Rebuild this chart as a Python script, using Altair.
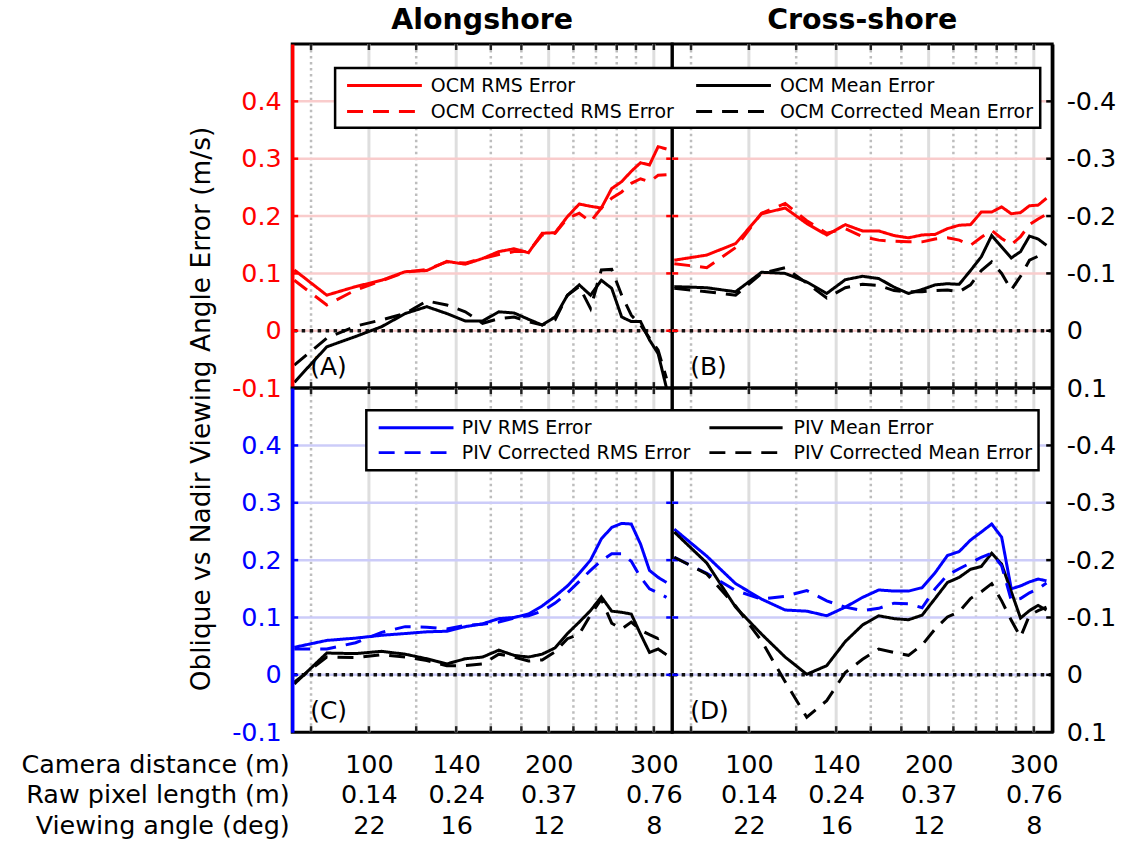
import altair as alt
import pandas as pd

# ---------------- data ----------------
distance = [75, 85, 95, 105, 115, 125, 135, 145, 155, 165, 175, 185, 195,
            205, 215, 225, 235, 245, 255, 265, 275, 285, 295, 305, 315]

# Alongshore, OCM (left axis)
ocm_along_rms = [0.106, 0.062, 0.077, 0.088, 0.103, 0.105, 0.121, 0.116, 0.126, 0.138, 0.143, 0.136, 0.170,
                 0.171, 0.199, 0.221, 0.217, 0.214, 0.248, 0.260, 0.278, 0.293, 0.289, 0.321, 0.317]
ocm_along_rms_corr = [0.088, 0.045, 0.071, 0.087, 0.102, 0.107, 0.120, 0.118, 0.126, 0.133, 0.138, 0.138, 0.167,
                      0.170, 0.196, 0.205, 0.190, 0.214, 0.231, 0.242, 0.257, 0.265, 0.260, 0.271, 0.272]
ocm_along_mean = [-0.090, -0.028, -0.010, 0.007, 0.030, 0.042, 0.030, 0.017, 0.017, 0.033, 0.031, 0.020, 0.010,
                  0.024, 0.062, 0.080, 0.062, 0.088, 0.074, 0.024, 0.016, 0.016, -0.016, -0.040, -0.100]
ocm_along_mean_corr = [-0.060, -0.013, 0.008, 0.019, 0.030, 0.052, 0.045, 0.033, 0.013, 0.021, 0.024, 0.016, 0.010,
                       0.019, 0.062, 0.077, 0.039, 0.106, 0.107, 0.062, 0.027, 0.010, -0.013, -0.034, -0.083]

# Cross-shore, OCM (right axis, reversed)
ocm_cross_rms = [-0.123, -0.132, -0.152, -0.204, -0.214, -0.187, -0.167, -0.185, -0.174, -0.174, -0.166, -0.162, -0.167,
                 -0.168, -0.178, -0.184, -0.185, -0.207, -0.207, -0.216, -0.204, -0.206, -0.218, -0.219, -0.231]
ocm_cross_rms_corr = [-0.117, -0.110, -0.145, -0.205, -0.222, -0.192, -0.170, -0.178, -0.164, -0.158, -0.156, -0.155, -0.155,
                      -0.160, -0.162, -0.158, -0.149, -0.163, -0.175, -0.161, -0.150, -0.164, -0.185, -0.195, -0.203]
ocm_cross_mean = [-0.077, -0.075, -0.068, -0.102, -0.100, -0.085, -0.065, -0.089, -0.095, -0.091, -0.076, -0.065, -0.072,
                  -0.080, -0.082, -0.081, -0.105, -0.129, -0.166, -0.146, -0.127, -0.138, -0.165, -0.160, -0.149]
ocm_cross_mean_corr = [-0.074, -0.068, -0.062, -0.100, -0.110, -0.083, -0.057, -0.075, -0.081, -0.079, -0.070, -0.068, -0.068,
                       -0.070, -0.071, -0.068, -0.080, -0.105, -0.120, -0.100, -0.071, -0.095, -0.123, -0.130, -0.129]

# Alongshore, PIV (left axis)
piv_along_rms = [0.048, 0.060, 0.064, 0.069, 0.072, 0.075, 0.076, 0.084, 0.089, 0.098, 0.100, 0.106, 0.120,
                 0.137, 0.155, 0.177, 0.200, 0.237, 0.257, 0.264, 0.263, 0.228, 0.182, 0.170, 0.161]
piv_along_rms_corr = [0.045, 0.045, 0.056, 0.074, 0.084, 0.083, 0.080, 0.086, 0.088, 0.092, 0.099, 0.103, 0.111,
                      0.125, 0.143, 0.163, 0.182, 0.199, 0.211, 0.211, 0.198, 0.170, 0.150, 0.143, 0.135]
piv_along_mean = [-0.016, 0.038, 0.037, 0.041, 0.036, 0.028, 0.019, 0.028, 0.031, 0.043, 0.034, 0.031, 0.036,
                  0.047, 0.072, 0.092, 0.112, 0.136, 0.111, 0.109, 0.106, 0.071, 0.039, 0.045, 0.035]
piv_along_mean_corr = [-0.013, 0.031, 0.030, 0.035, 0.031, 0.025, 0.016, 0.016, 0.019, 0.036, 0.031, 0.024, 0.026,
                       0.040, 0.063, 0.071, 0.104, 0.132, 0.090, 0.080, 0.092, 0.078, 0.070, 0.063, 0.070]

# Cross-shore, PIV (right axis, reversed)
piv_cross_rms = [-0.254, -0.207, -0.159, -0.132, -0.113, -0.111, -0.103, -0.118, -0.135, -0.148, -0.146, -0.146, -0.152,
                 -0.178, -0.208, -0.215, -0.235, -0.249, -0.263, -0.240, -0.150, -0.155, -0.162, -0.167, -0.164]
piv_cross_rms_corr = [-0.205, -0.177, -0.147, -0.132, -0.137, -0.147, -0.129, -0.118, -0.112, -0.116, -0.125, -0.124, -0.117,
                      -0.150, -0.174, -0.185, -0.195, -0.205, -0.212, -0.190, -0.130, -0.133, -0.143, -0.150, -0.160]
piv_cross_mean = [-0.249, -0.195, -0.118, -0.071, -0.031, -0.001, -0.016, -0.058, -0.087, -0.103, -0.098, -0.096, -0.104,
                  -0.133, -0.161, -0.170, -0.184, -0.189, -0.212, -0.193, -0.145, -0.099, -0.112, -0.121, -0.113]
piv_cross_mean_corr = [-0.205, -0.176, -0.120, -0.059, 0.012, 0.074, 0.045, -0.004, -0.027, -0.045, -0.039, -0.034, -0.052,
                       -0.080, -0.101, -0.110, -0.133, -0.145, -0.159, -0.129, -0.095, -0.066, -0.104, -0.112, -0.118]

ocm_names = ["OCM RMS Error", "OCM Mean Error", "OCM Corrected RMS Error", "OCM Corrected Mean Error"]
piv_names = ["PIV RMS Error", "PIV Mean Error", "PIV Corrected RMS Error", "PIV Corrected Mean Error"]

tick_distance = [100, 140, 200, 300]
tick_pixel_length = ["0.14", "0.24", "0.37", "0.76"]
tick_view_angle = ["22", "16", "12", "8"]
row_titles = ["Camera distance (m)", "Raw pixel length (m)", "Viewing angle (deg)"]
grid_major = [100, 140, 200, 300]
grid_minor = [80, 120, 160, 180, 220, 240, 260, 280]
y_ticks_along = [-0.1, 0, 0.1, 0.2, 0.3, 0.4]
y_ticks_cross = [0.1, 0, -0.1, -0.2, -0.3, -0.4]
y_grid_along = [0, 0.1, 0.2, 0.3, 0.4]
y_grid_cross = [0, -0.1, -0.2, -0.3, -0.4]
zero_line = [0]
panel_titles = ["Alongshore", "Cross-shore"]
y_title = "Oblique vs Nadir Viewing Angle Error (m/s)"

# ---------------- styling ----------------
FONT = "DejaVu Sans"
PW, PH = 381, 345
X_DOMAIN = [74.4, 322]
LW = 3
DASH = [16, 10]
TICK = 6
RED, BLUE, BLACK = "#ff0000", "#0000ff", "#000000"
NUM_EXPR = "datum.value == 0 ? '0' : (datum.value < 0 ? '-' : '') + format(abs(datum.value), '.1f')"
X_EXPR = " : ".join(
    f"datum.value == {d} ? ['{d}', '{p}', '{a}']"
    for d, p, a in zip(tick_distance, tick_pixel_length, tick_view_angle)
) + " : ''"

ONE = alt.Data(values=[{}])


def long_frame(names, arrays):
    rows = []
    for n, arr in zip(names, arrays):
        for d, v in zip(distance, arr):
            rows.append({"distance": d, "error": v, "series": n})
    return pd.DataFrame(rows)


def legend_layers(names, main_color, box, line_cols, text_cols, rows):
    out = [alt.Chart(ONE).mark_rect(fill="white", stroke="black", strokeWidth=2.5).encode(
        x=alt.value(box[0]), x2=alt.value(box[1]), y=alt.value(box[2]), y2=alt.value(box[3]))]
    colors = [main_color, BLACK, main_color, BLACK]
    for i, name in enumerate(names):
        r, c = divmod(i, 2)
        rule_kw = dict(color=colors[i], strokeWidth=LW)
        if r == 1:
            rule_kw["strokeDash"] = DASH
        out.append(alt.Chart(ONE).mark_rule(**rule_kw).encode(
            x=alt.value(line_cols[c][0]), x2=alt.value(line_cols[c][1]), y=alt.value(rows[r])))
        out.append(alt.Chart(ONE).mark_text(text=name, align="left", baseline="middle", font=FONT,
                                            fontSize=19, color="black").encode(
            x=alt.value(text_cols[c]), y=alt.value(rows[r])))
    return out


def make_panel(names, arrays, main_color, cross, bottom, letter, gridcolor, title=None,
               legend=None, with_ytitle=False):
    xs = alt.Scale(type="log", domain=X_DOMAIN, nice=False)
    if cross:
        ys = alt.Scale(domain=[-0.5, 0.1], reverse=True, nice=False, zero=False)
        yticks, ygrid, orient, axcol, lpad = y_ticks_cross, y_grid_cross, "right", BLACK, 14
    else:
        ys = alt.Scale(domain=[-0.1, 0.5], nice=False, zero=False)
        yticks, ygrid, orient, axcol, lpad = y_ticks_along, y_grid_along, "left", main_color, 11

    y_axis = alt.Axis(values=yticks, labelExpr=NUM_EXPR, orient=orient, labelFont=FONT, labelFontSize=25.5,
                      labelColor=axcol, labelPadding=lpad, domainColor=axcol, domainWidth=3.5,
                      ticks=False, grid=False, title=None, labelFlush=False, labelOverlap=False, zindex=1)
    if bottom:
        xkw = dict(values=tick_distance, labelExpr=X_EXPR, labelFont=FONT, labelFontSize=25.5,
                   labelLineHeight=31, labelPadding=20, labelColor="black", labelOverlap=False,
                   labelFlush=False, ticks=False, grid=False, domain=False)
        if cross:
            xkw["title"] = None
        else:
            xkw.update(title=row_titles, titleFont=FONT, titleFontSize=25.5, titleFontWeight="normal",
                       titleColor="black", titleAlign="right", titleBaseline="top", titleX=-3,
                       titleY=20, titleLineHeight=31, titleAnchor="start")
        x_axis = alt.Axis(**xkw)
    else:
        x_axis = None

    X = lambda f: alt.X(f, scale=xs, axis=x_axis)
    Y = lambda f: alt.Y(f, scale=ys, axis=y_axis)
    xtick_df = pd.DataFrame({"g": grid_major + grid_minor})
    ytick_df = pd.DataFrame({"h": ygrid})
    side_x = (PW - TICK, PW) if cross else (0, TICK)
    opp_x = (0, TICK) if cross else (PW - TICK, PW)

    layers = [
        alt.Chart(long_frame(names, arrays)).mark_line(strokeWidth=0, opacity=0).encode(
            x=X("distance:Q"), y=Y("error:Q"), detail="series:N"),
        alt.Chart(pd.DataFrame({"g": grid_minor})).mark_rule(color="#bdbdbd", strokeWidth=2.5,
                                                             strokeDash=[2.5, 3.5]).encode(x=X("g:Q")),
        alt.Chart(pd.DataFrame({"g": grid_major})).mark_rule(color="#dedede", strokeWidth=3).encode(x=X("g:Q")),
        alt.Chart(pd.DataFrame({"h": ygrid})).mark_rule(color=gridcolor, strokeWidth=2.5).encode(y=Y("h:Q")),
        alt.Chart(pd.DataFrame({"z": zero_line})).mark_rule(color="#111111", strokeWidth=3.5,
                                                            strokeDash=[3.5, 4.5]).encode(y=Y("z:Q")),
        # inward tick marks on the frame
        alt.Chart(xtick_df).mark_rule(color="#222222", strokeWidth=2.5).encode(
            x=X("g:Q"), y=alt.value(0), y2=alt.value(TICK)),
        alt.Chart(xtick_df).mark_rule(color="#222222", strokeWidth=2.5).encode(
            x=X("g:Q"), y=alt.value(PH - TICK), y2=alt.value(PH)),
        alt.Chart(ytick_df).mark_rule(color=axcol, strokeWidth=2.5).encode(
            y=Y("h:Q"), x=alt.value(side_x[0]), x2=alt.value(side_x[1])),
        alt.Chart(ytick_df).mark_rule(color=main_color, strokeWidth=2.5).encode(
            y=Y("h:Q"), x=alt.value(opp_x[0]), x2=alt.value(opp_x[1])),
        alt.Chart(long_frame(names, arrays)).mark_line(strokeWidth=LW, clip=True).encode(
            x=X("distance:Q"),
            y=Y("error:Q"),
            color=alt.Color("series:N", scale=alt.Scale(domain=names,
                                                        range=[main_color, BLACK, main_color, BLACK]),
                            legend=None),
            strokeDash=alt.StrokeDash("series:N", scale=alt.Scale(domain=names,
                                                                  range=[[1, 0], [1, 0], DASH, DASH]),
                                      legend=None),
        ),
        alt.Chart(ONE).mark_text(text=letter, align="left", baseline="middle", font=FONT,
                                 fontSize=25, color="black").encode(x=alt.value(18), y=alt.value(324)),
    ]
    if with_ytitle:
        layers.append(alt.Chart(ONE).mark_text(text=y_title, angle=270, align="center", baseline="middle",
                                               font=FONT, fontSize=26.5, color="black").encode(
            x=alt.value(-90.5), y=alt.value(366)))
    if legend is not None:
        layers.extend(legend)
    props = dict(width=PW, height=PH)
    if title is not None:
        props["title"] = alt.TitleParams(text=title, font=FONT, fontSize=28.5, fontWeight="bold",
                                         anchor="middle", offset=8, color="black")
    return alt.layer(*layers).resolve_scale(color="shared").properties(**props)


PINK = "#f9cccc"
LBLUE = "#ccccf9"

tl = make_panel(ocm_names, [ocm_along_rms, ocm_along_mean, ocm_along_rms_corr, ocm_along_mean_corr],
                RED, cross=False, bottom=False, letter="(A)", gridcolor=PINK, title=panel_titles[0],
                with_ytitle=True)
tr = make_panel(ocm_names, [ocm_cross_rms, ocm_cross_mean, ocm_cross_rms_corr, ocm_cross_mean_corr],
                RED, cross=True, bottom=False, letter="(B)", gridcolor=PINK, title=panel_titles[1],
                legend=legend_layers(ocm_names, RED, (-338, 369, 24, 84),
                                     [(-326, -251), (24, 99)], [-242, 108], [41.7, 67.7]))
bl = make_panel(piv_names, [piv_along_rms, piv_along_mean, piv_along_rms_corr, piv_along_mean_corr],
                BLUE, cross=False, bottom=True, letter="(C)", gridcolor=LBLUE)
br = make_panel(piv_names, [piv_cross_rms, piv_cross_mean, piv_cross_rms_corr, piv_cross_mean_corr],
                BLUE, cross=True, bottom=True, letter="(D)", gridcolor=LBLUE,
                legend=legend_layers(piv_names, BLUE, (-306.7, 367.3, 22.3, 82.3),
                                     [(-294.3, -219.3), (37.3, 110.7)], [-211, 121.7], [39.7, 64.7]))

chart = alt.concat(tl, tr, bl, br, columns=2, spacing=0, bounds="flush").resolve_scale(
    color="independent", strokeDash="independent"
).configure_view(
    stroke="black", strokeWidth=3
).properties(
    padding={"left": 19, "top": 3, "right": 5, "bottom": 5}, background="white"
)

chart.save("out.html", embed_options={"renderer": "svg", "actions": False})
